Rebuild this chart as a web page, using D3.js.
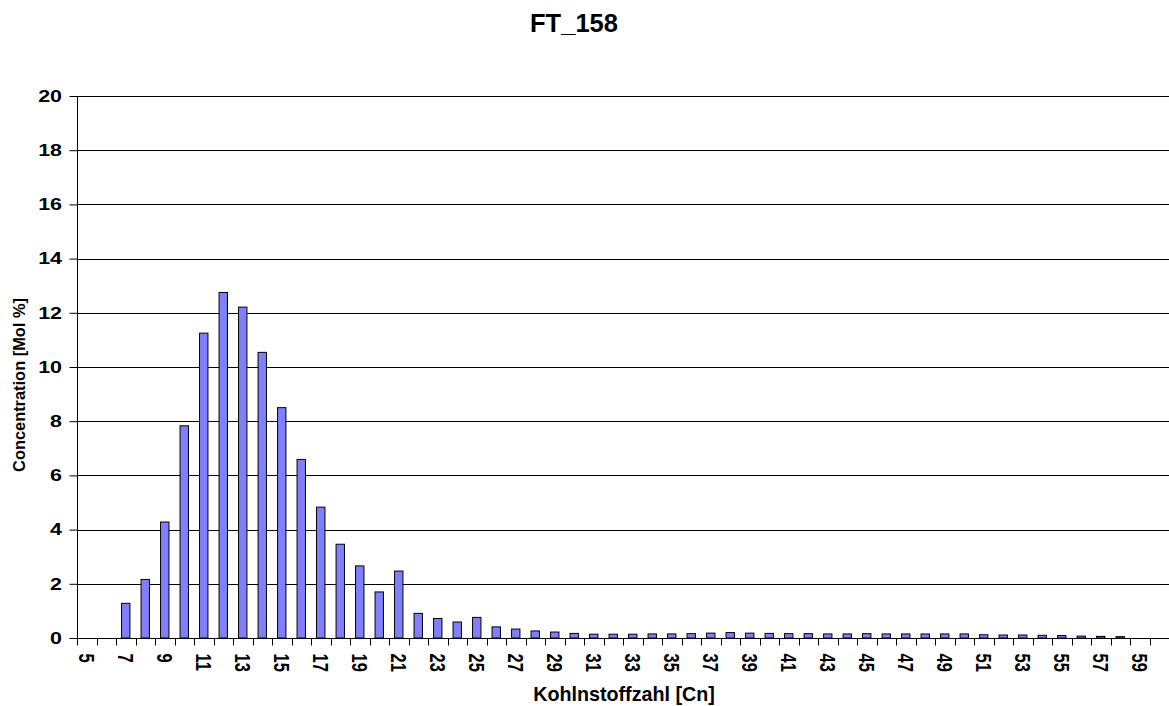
<!DOCTYPE html>
<html>
<head>
<meta charset="utf-8">
<script src="https://cdn.jsdelivr.net/npm/d3@7"></script>
<style>
  body { margin: 0; background: #fff; }
  svg { display: block; font-family: "Liberation Sans", Arial, sans-serif; }
</style>
</head>
<body>
<svg id="chart" width="1169" height="706"></svg>
<script>
const title = "FT_158";
const xTitle = "Kohlnstoffzahl [Cn]";
const yTitle = "Concentration [Mol %]";
const carbonNumbers = d3.range(5, 61);
const concentrations = [
  0, 0, 1.28, 2.16, 4.28, 7.83, 11.25, 12.75, 12.21, 10.54,
  8.50, 6.59, 4.83, 3.46, 2.66, 1.70, 2.47, 0.91, 0.72, 0.59,
  0.76, 0.41, 0.33, 0.26, 0.22, 0.17, 0.14, 0.14, 0.14, 0.15,
  0.15, 0.16, 0.18, 0.20, 0.18, 0.17, 0.16, 0.16, 0.15, 0.15,
  0.16, 0.15, 0.15, 0.15, 0.15, 0.15, 0.12, 0.11, 0.11, 0.10,
  0.09, 0.07, 0.06, 0.05, 0, 0
];
const yTicks = [0, 2, 4, 6, 8, 10, 12, 14, 16, 18, 20];
const xTickLabels = carbonNumbers.filter(c => c % 2 === 1);

const svg = d3.select("#chart");
const mLeft = 77, mRight = 1169, mTop = 96, mBottom = 638;
const stretch = 1.3, tickFont = 16.5;

const x = d3.scaleBand().domain(carbonNumbers).range([mLeft, mRight]).paddingInner(0).paddingOuter(0);
const y = d3.scaleLinear().domain([0, 20]).range([mBottom, mTop]);

// gridlines
svg.append("g").selectAll("line").data(yTicks.filter(t => t > 0)).join("line")
  .attr("x1", mLeft).attr("x2", mRight)
  .attr("y1", d => Math.round(y(d)) + 0.5).attr("y2", d => Math.round(y(d)) + 0.5)
  .attr("stroke", "#000").attr("stroke-width", 1);

// bars
const bw = x.bandwidth() * 0.43;
svg.append("g").selectAll("rect")
  .data(carbonNumbers.map((c, i) => ({c, v: concentrations[i]})).filter(d => d.v > 0))
  .join("rect")
  .attr("x", d => x(d.c) + (x.bandwidth() - bw) / 2)
  .attr("width", bw)
  .attr("y", d => y(d.v))
  .attr("height", d => y(0) - y(d.v))
  .attr("fill", "#8080ff")
  .attr("stroke", "#000")
  .attr("stroke-width", 1);

// y axis
const yAxis = d3.axisLeft(y).tickValues(yTicks).tickSize(8).tickFormat("");
const gy = svg.append("g").attr("transform", `translate(${mLeft + 0.5},0)`).call(yAxis);
gy.select(".domain").attr("stroke", "#000").attr("d", `M0,${mTop}V${mBottom}`);
gy.selectAll(".tick line").attr("stroke", "#000");
svg.append("g").selectAll("text").data(yTicks).join("text")
  .attr("transform", d => `translate(62,${y(d)}) scale(${stretch},1)`)
  .attr("dy", "0.35em").attr("text-anchor", "end")
  .attr("font-size", tickFont).attr("font-weight", "bold").attr("fill", "#000")
  .text(d => d);

// x axis
const gx = svg.append("g").attr("transform", `translate(0,${mBottom + 0.5})`);
gx.append("line").attr("x1", mLeft).attr("x2", mRight).attr("stroke", "#000");
gx.selectAll("line.tk").data(carbonNumbers).join("line").attr("class", "tk")
  .attr("x1", d => Math.round(x(d)) + 0.5).attr("x2", d => Math.round(x(d)) + 0.5)
  .attr("y1", 0).attr("y2", 7).attr("stroke", "#000");
gx.selectAll("text").data(xTickLabels).join("text")
  .attr("transform", d => `translate(${x(d) + x.bandwidth() / 2},15) rotate(90) scale(1,${stretch})`)
  .attr("dy", "0.35em")
  .attr("text-anchor", "start")
  .attr("font-size", tickFont).attr("font-weight", "bold").attr("fill", "#000")
  .text(d => d);

// titles
svg.append("text").attr("x", 574).attr("y", 32).attr("text-anchor", "middle")
  .attr("font-size", 25.5).attr("font-weight", "bold").text(title);
svg.append("text").attr("x", 624).attr("y", 701).attr("text-anchor", "middle")
  .attr("font-size", 19.7).attr("font-weight", "bold").text(xTitle);
svg.append("text").attr("transform", "translate(25,385) rotate(-90)").attr("text-anchor", "middle")
  .attr("font-size", 16.4).attr("font-weight", "bold").text(yTitle);
</script>
</body>
</html>
